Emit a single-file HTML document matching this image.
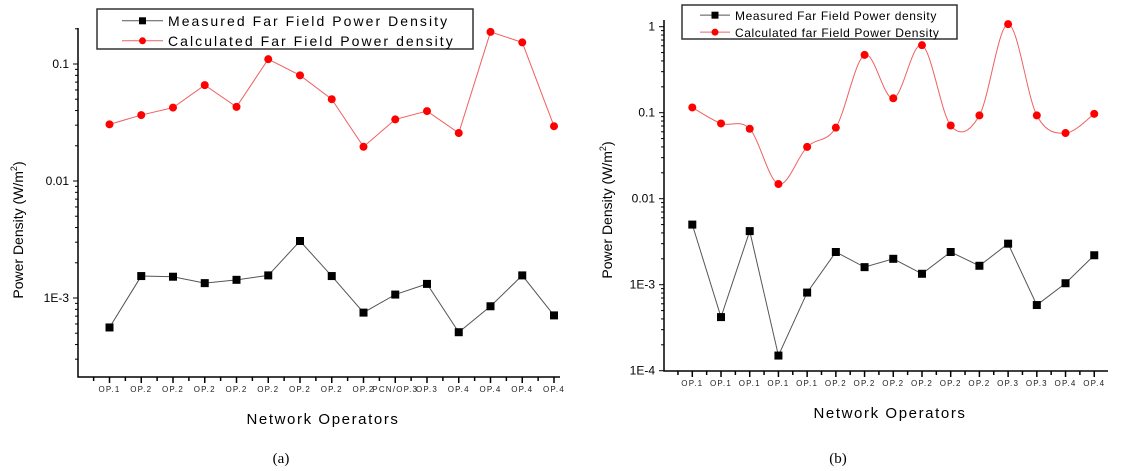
<!DOCTYPE html>
<html><head><meta charset="utf-8"><style>
html,body{margin:0;padding:0;background:#fff;}
svg{display:block;font-family:"Liberation Sans",Arial,sans-serif;}
</style></head><body>
<svg id="s" width="1132" height="471" viewBox="0 0 1132 471"></svg>
<script>
// ---------- Chart (a) data ----------
const catsA = ["OP.1","OP.2","OP.2","OP.2","OP.2","OP.2","OP.2","OP.2","OP.2","PCN/OP.3","OP.3","OP.4","OP.4","OP.4","OP.4"];
const measuredA = [5.6e-4,1.54e-3,1.52e-3,1.34e-3,1.43e-3,1.56e-3,3.07e-3,1.54e-3,7.5e-4,1.07e-3,1.32e-3,5.1e-4,8.5e-4,1.56e-3,7.1e-4];
const calculatedA = [0.0305,0.0366,0.0424,0.066,0.043,0.11,0.080,0.050,0.0196,0.0336,0.0396,0.0257,0.188,0.153,0.0294];
const ticksA = [0.1,0.01,0.001];
const tickLabelsA = ["0.1","0.01","1E-3"];
// ---------- Chart (b) data ----------
const catsB = ["OP.1","OP.1","OP.1","OP.1","OP.1","OP.2","OP.2","OP.2","OP.2","OP.2","OP.2","OP.3","OP.3","OP.4","OP.4"];
const measuredB = [5.0e-3,4.2e-4,4.2e-3,1.5e-4,8.1e-4,2.4e-3,1.6e-3,2.0e-3,1.34e-3,2.4e-3,1.66e-3,3.0e-3,5.8e-4,1.04e-3,2.2e-3];
const calculatedB = [0.115,0.075,0.065,0.0148,0.040,0.067,0.47,0.147,0.61,0.071,0.093,1.07,0.093,0.058,0.097];
const ticksB = [1,0.1,0.01,0.001,0.0001];
const tickLabelsB = ["1","0.1","0.01","1E-3","1E-4"];

const NS="http://www.w3.org/2000/svg";
const svg=document.getElementById('s');
function mk(tag,attrs,parent){const e=document.createElementNS(NS,tag);for(const k in attrs)e.setAttribute(k,attrs[k]);(parent||svg).appendChild(e);return e;}

function chart(cfg){
  const g=mk('g',{});
  
  
  const y=v=>cfg.refY-(Math.log10(v)-cfg.refLog)*cfg.dec;
  const x=i=>cfg.x0+i*cfg.dx;
  const ax=mk('path',{d:`M${cfg.left},${cfg.top}V${cfg.bottom}H${cfg.right}`,stroke:'#000','stroke-width':1.5,fill:'none'},g);
  
  
  const lo=Math.floor(Math.log10(cfg.minV)),hi=Math.ceil(Math.log10(cfg.maxV));
  for(let d=lo;d<=hi;d++){for(let m=1;m<10;m++){const v=m*Math.pow(10,d);const yy=y(v);if(yy<cfg.top-0.5||yy>cfg.bottom+0.5)continue;
    mk('line',{x1:cfg.left-(m===1?5:3),x2:cfg.left,y1:yy,y2:yy,stroke:'#000','stroke-width':1},g);}}
  cfg.ticks.forEach((t,i)=>{const tl=mk('text',{x:cfg.left-9,y:y(t)+4,'text-anchor':'end','font-size':12,fill:'#000'},g);tl.textContent=cfg.tickLabels[i];
    
    });
  for(let k=-2;k<=2*cfg.cats.length;k++){const xx=cfg.x0+k*cfg.dx/2;if(xx<cfg.left||xx>cfg.right)continue;
    mk('line',{x1:xx,x2:xx,y1:cfg.bottom,y2:cfg.bottom+(k%2===0?6:4),stroke:'#000','stroke-width':1.5},g);}
  cfg.cats.forEach((c,i)=>{const t=mk('text',{x:x(i),y:cfg.bottom+15,'text-anchor':'middle','font-size':8,'letter-spacing':1.2,fill:'#222'},g);t.textContent=c;
    
    });
  const xt=mk('text',{x:cfg.xtX,y:cfg.xtY,'text-anchor':'middle','font-size':15,'letter-spacing':1.6,fill:'#000'},g);xt.textContent='Network Operators';
  
  
  const yt=mk('text',{transform:`translate(${cfg.ytX},${cfg.ytY}) rotate(-90)`,'text-anchor':'middle','font-size':14,fill:'#000'},g);
  yt.innerHTML='Power Density (W/m<tspan dy="-6" font-size="9">2</tspan><tspan dy="6">)</tspan>';
  
  
  const pr=cfg.calc.map((v,i)=>[x(i),y(v)]);
  let d='M'+pr[0].join(',');
  if(cfg.smooth){for(let i=0;i<pr.length-1;i++){const p0=pr[Math.max(0,i-1)],p1=pr[i],p2=pr[i+1],p3=pr[Math.min(pr.length-1,i+2)];
      d+=` C${p1[0]+(p2[0]-p0[0])/6},${p1[1]+(p2[1]-p0[1])/6} ${p2[0]-(p3[0]-p1[0])/6},${p2[1]-(p3[1]-p1[1])/6} ${p2[0]},${p2[1]}`;}}
  else pr.slice(1).forEach(p=>d+=' L'+p.join(','));
  const rl=mk('path',{d,stroke:'#f06060','stroke-width':1,fill:'none'},g);
  
  
  const pm=cfg.meas.map((v,i)=>[x(i),y(v)]);
  const bl=mk('polyline',{points:pm.map(p=>p.join(',')).join(' '),stroke:'#555','stroke-width':1,fill:'none'},g);
  
  
  pr.forEach(p=>{const c=mk('circle',{cx:p[0],cy:p[1],r:4,fill:'#f00'},g);
    
    });
  pm.forEach(p=>{const r=mk('rect',{x:p[0]-4,y:p[1]-4,width:8,height:8,fill:'#000'},g);
    
    });
  const L=cfg.leg;const lg=mk('g',{},g);
  
  
  mk('rect',{x:L.x,y:L.y,width:L.w,height:L.h,fill:'#fff',stroke:'#333','stroke-width':1.5},lg);
  [[cfg.l1,'#555','sq'],[cfg.l2,'#f06060','ci']].forEach((e,i)=>{const yy=L.y+L.h*(0.27+0.5*i)+1;
    const ent=mk('g',{},lg);
    
    
    mk('line',{x1:L.x+L.o,x2:L.x+L.o+L.s,y1:yy,y2:yy,stroke:e[1],'stroke-width':1},ent);
    const cx=L.x+L.o+L.s/2;
    if(e[2]==='sq')mk('rect',{x:cx-3.5,y:yy-3.5,width:7,height:7,fill:'#000'},ent);else mk('circle',{cx,cy:yy,r:3.5,fill:'#f00'},ent);
    const t=mk('text',{x:L.x+L.o+L.s+5,y:yy+5,'font-size':L.fs,'letter-spacing':L.ls,fill:'#000'},ent);t.textContent=e[0];});
  const cap=mk('text',{x:cfg.capX,y:463,'text-anchor':'middle','font-size':15,'font-family':'Liberation Serif,serif',fill:'#000'},g);cap.textContent=cfg.cap;
  
  
}
chart({name:'chart-a',cats:catsA,meas:measuredA,calc:calculatedA,ticks:ticksA,tickLabels:tickLabelsA,
  left:78,right:560,top:28,bottom:377,refY:64,refLog:-1,dec:117,minV:1e-4,maxV:1,x0:109.5,dx:31.75,smooth:false,
  xtX:323,xtY:424,ytX:23,ytY:230,capX:281,cap:'(a)',
  l1:'Measured Far Field Power Density',l2:'Calculated Far Field Power density',
  leg:{x:97,y:9,w:376,h:40,o:25,s:41,fs:14,ls:2.05}});
chart({name:'chart-b',cats:catsB,meas:measuredB,calc:calculatedB,ticks:ticksB,tickLabels:tickLabelsB,
  left:664,right:1108,top:20,bottom:371,refY:112.7,refLog:-1,dec:86,minV:1e-5,maxV:10,x0:692.3,dx:28.71,smooth:true,
  xtX:890,xtY:418,ytX:612,ytY:210,capX:838,cap:'(b)',
  l1:'Measured Far Field Power density',l2:'Calculated far Field Power Density',
  leg:{x:682,y:5,w:275,h:34,o:18,s:30,fs:12,ls:0.6}});
</script>
</body></html>
